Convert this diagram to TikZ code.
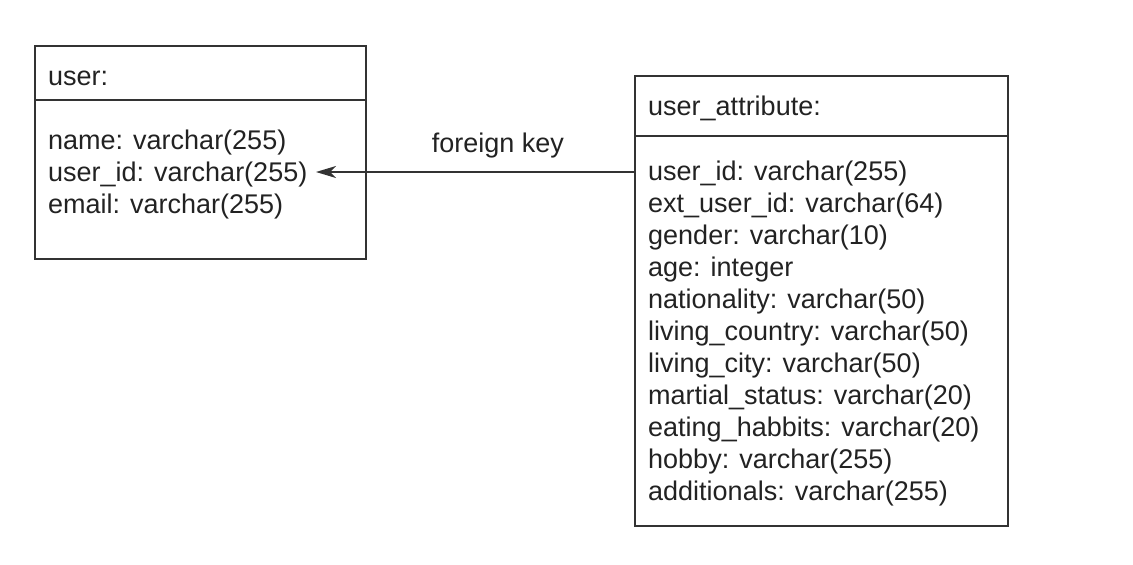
\documentclass[tikz,border=0pt]{standalone}
\usepackage{fontspec}
\setmainfont{Liberation Sans}
\usetikzlibrary{arrows.meta}
\definecolor{ink}{HTML}{333333}
\definecolor{txt}{HTML}{222222}
\begin{document}
\begin{tikzpicture}[x=1pt,y=-1pt,
  tbox/.style={draw=ink,line width=1.8pt},
  ttext/.style={anchor=base west,inner sep=0pt,text=txt,font=\fontsize{27}{32}\selectfont,align=left},
  fk/.style={draw=ink,line width=1.8pt,-{Stealth[length=20pt,width=12pt,inset=6pt]}}]
\useasboundingbox (0,0) rectangle (1133,565);
% user table
\node[tbox,minimum width=331pt,minimum height=213pt,anchor=north west,inner sep=0pt] (user) at (34,45) {};
\draw[ink,line width=1.8pt] (user.north west |- 0,100) coordinate (ud1) -- (user.north east |- 0,100) coordinate (ud2);
\node[ttext] (usertitle) at (48,85) {user:};
\node[ttext] (userbody) at (48,213) {name: varchar(255)\\user\_id: varchar(255)\\email: varchar(255)};
% user_attribute table
\node[tbox,minimum width=373pt,minimum height=450pt,anchor=north west,inner sep=0pt] (attr) at (634,75) {};
\draw[ink,line width=1.8pt] (attr.north west |- 0,136) coordinate (ad1) -- (attr.north east |- 0,136) coordinate (ad2);
\node[ttext] (attrtitle) at (648,115) {user\_attribute:};
\node[ttext] (attrbody) at (648,500) {user\_id: varchar(255)\\ext\_user\_id: varchar(64)\\gender: varchar(10)\\age: integer\\nationality: varchar(50)\\living\_country: varchar(50)\\living\_city: varchar(50)\\martial\_status: varchar(20)\\eating\_habbits: varchar(20)\\hobby: varchar(255)\\additionals: varchar(255)};
% foreign key
\coordinate (fktip) at (316,172);
\draw[fk] (attr.west |- fktip) -- (fktip);
\node[anchor=base,inner sep=0pt,text=txt,font=\fontsize{27}{32}\selectfont] (fklabel) at (498,152) {foreign key};
\end{tikzpicture}
\end{document}
